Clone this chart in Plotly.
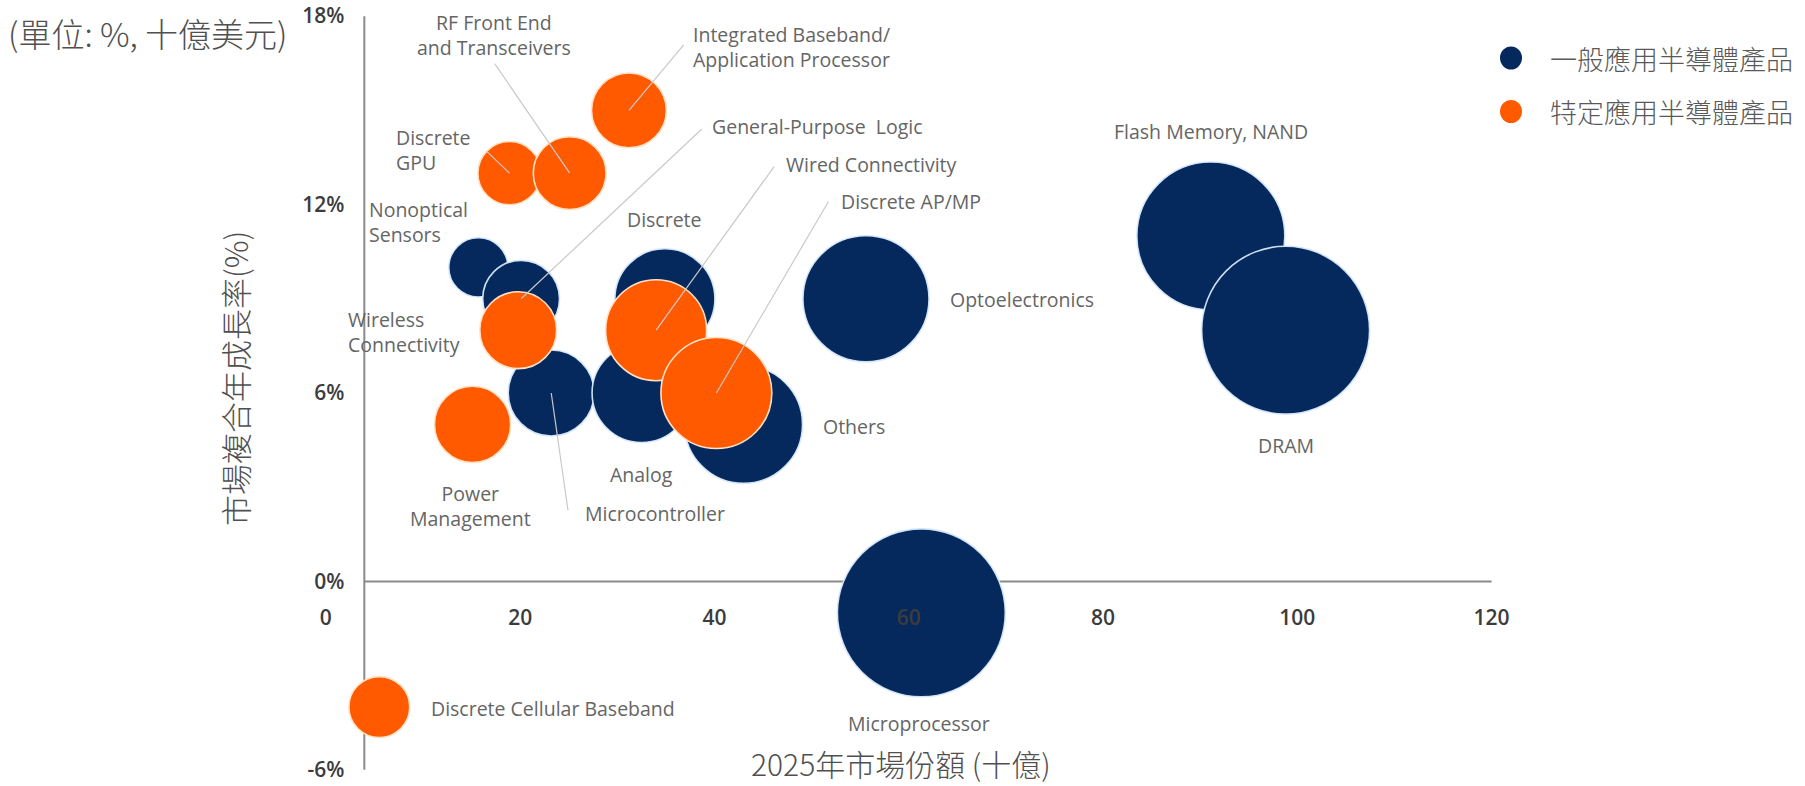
import plotly.graph_objects as go

# 一般應用半導體產品
general_names = ["Nonoptical Sensors", "General-Purpose Logic", "Microcontroller", "Analog",
                 "Discrete", "Others", "Optoelectronics", "Flash Memory, NAND", "DRAM",
                 "Microprocessor"]
general_market_2025 = [15.7, 20.1, 23.2, 32.5, 34.9, 43.0, 55.6, 91.1, 98.8, 61.3]
general_cagr = [10, 9, 6, 6, 9, 5, 9, 11, 8, -1]
general_bubble = [35, 59, 74, 98, 100, 139, 159, 219, 282, 282]

# 特定應用半導體產品
specific_names = ["Discrete GPU", "RF Front End and Transceivers",
                  "Integrated Baseband/Application Processor", "Wireless Connectivity",
                  "Wired Connectivity", "Discrete AP/MP", "Power Management",
                  "Discrete Cellular Baseband"]
specific_market_2025 = [18.9, 25.1, 31.2, 19.8, 34.0, 40.2, 15.1, 5.5]
specific_cagr = [13, 13, 15, 8, 8, 6, 5, -4]
specific_bubble = [40, 53, 56, 59, 102, 123, 58, 37]

series_names = ["一般應用半導體產品", "特定應用半導體產品"]
x_ticks = [0, 20, 40, 60, 80, 100, 120]
y_ticks = [-6, 0, 6, 12, 18]
y_tick_labels = ["-6%", "0%", "6%", "12%", "18%"]

NAVY = "#05295C"
ORANGE = "#FF5A00"
LABEL_GREY = "#656565"
TITLE_GREY = "#505050"
LATIN = "Open Sans, Liberation Sans, sans-serif"
CJK = "Noto Sans CJK TC, Noto Sans CJK SC, sans-serif"

W, H = 1805, 786
M = dict(l=287, r=294, t=13, b=13)
X_RANGE = [-4, 122]
Y_RANGE = [-6.1, 18.1]
Y_AXIS_X = 3.96  # where the vertical axis line crosses the x scale


def paper_x(px):
    return (px - M["l"]) / (W - M["l"] - M["r"])


def paper_y(py):
    return (H - M["b"] - py) / (H - M["t"] - M["b"])


# label text, pixel offset from bubble centre, anchor, optional leader-line tail offset
label_style = {
    "Nonoptical Sensors": ("Nonoptical<br>Sensors", -111, -45, "left", None),
    "General-Purpose Logic": ("General-Purpose  Logic", 189, -172, "left", (182, -171)),
    "Microcontroller": ("Microcontroller", 32, 120, "left", (17, 119)),
    "Analog": ("Analog", 0, 81, "center", None),
    "Discrete": ("Discrete", 0, -79, "center", None),
    "Others": ("Others", 77, 2, "left", None),
    "Optoelectronics": ("Optoelectronics", 82, 1, "left", None),
    "Flash Memory, NAND": ("Flash Memory, NAND", 0, -104, "center", None),
    "DRAM": ("DRAM", 0, 115, "center", None),
    "Microprocessor": ("Microprocessor", -2, 111, "center", None),
    "Discrete GPU": ("Discrete<br>GPU", -115, -23, "left", (-24, -23)),
    "RF Front End and Transceivers": ("RF Front End<br>and Transceivers", -76, -138, "center", (-76, -111)),
    "Integrated Baseband/Application Processor": ("Integrated Baseband/<br>Application Processor", 62, -63, "left", (56, -67)),
    "Wireless Connectivity": ("Wireless<br>Connectivity", -172, 2, "left", None),
    "Wired Connectivity": ("Wired Connectivity", 128, -166, "left", (119, -165)),
    "Discrete AP/MP": ("Discrete AP/MP", 123, -192, "left", (113, -193)),
    "Power Management": ("Power<br>Management", -2, 82, "center", None),
    "Discrete Cellular Baseband": ("Discrete Cellular Baseband", 50, 1, "left", None),
}

fig = go.Figure()

groups = [
    (series_names[0], general_names, general_market_2025, general_cagr, general_bubble,
     NAVY, "rgba(215,232,250,0.95)"),
    (series_names[1], specific_names, specific_market_2025, specific_cagr, specific_bubble,
     ORANGE, "#FFE2C6"),
]

for name, names, xs, ys, sizes, color, edge in groups:
    fig.add_trace(go.Scatter(
        x=xs, y=ys, name=name, mode="markers", text=names,
        marker=dict(size=sizes, sizemode="area", sizeref=0.02, color=color,
                    opacity=1, line=dict(color=edge, width=1.6)),
        cliponaxis=False, showlegend=False,
        hovertemplate="%{text}<br>%{x}<br>%{y}%<extra></extra>",
    ))

annotations = []
for names, xs, ys in [(general_names, general_market_2025, general_cagr),
                      (specific_names, specific_market_2025, specific_cagr)]:
    for n, x, y in zip(names, xs, ys):
        text, dx, dy, anchor, leader = label_style[n]
        if leader is not None:
            annotations.append(dict(
                x=x, y=y, xref="x", yref="y", text="", showarrow=True,
                ax=leader[0], ay=leader[1], arrowhead=0, arrowwidth=1.2,
                arrowcolor="#C9C9C9", standoff=0,
            ))
        annotations.append(dict(
            x=x, y=y, xref="x", yref="y", text=text, showarrow=False,
            xshift=dx, yshift=-dy, xanchor=anchor, yanchor="middle",
            align=anchor,
            font=dict(family=LATIN, size=19.5, color=LABEL_GREY),
        ))

# unit note and axis titles
annotations.append(dict(
    x=paper_x(6), y=paper_y(33), xref="paper", yref="paper", text="(單位: %, 十億美元)",
    showarrow=False, xanchor="left", yanchor="middle",
    font=dict(family=CJK, size=33, color=TITLE_GREY, weight=300),
))
annotations.append(dict(
    x=paper_x(901), y=paper_y(763), xref="paper", yref="paper", text="2025年市場份額 (十億)",
    showarrow=False, xanchor="center", yanchor="middle",
    font=dict(family=CJK, size=30, color=TITLE_GREY, weight=300),
))
annotations.append(dict(
    x=paper_x(234), y=paper_y(379), xref="paper", yref="paper", text="市場複合年成長率(%)",
    showarrow=False, xanchor="center", yanchor="middle", textangle=-90,
    font=dict(family=CJK, size=31, color=TITLE_GREY, weight=300),
))

# legend: dot + text per series
shapes = []
for i, (name, color) in enumerate(zip(series_names, [NAVY, ORANGE])):
    cy = 58 + i * 53.5
    shapes.append(dict(
        type="circle", xref="paper", yref="paper", xsizemode="pixel", ysizemode="pixel",
        xanchor=paper_x(1511), yanchor=paper_y(cy), x0=-11, x1=11, y0=-11.5, y1=11.5,
        fillcolor=color, line=dict(width=0),
    ))
    annotations.append(dict(
        x=paper_x(1548), y=paper_y(cy), xref="paper", yref="paper", text=name,
        showarrow=False, xanchor="left", yanchor="middle",
        font=dict(family=CJK, size=27, color="#595959", weight=300),
    ))

# axis lines crossing at the origin region
shapes.append(dict(type="line", xref="x", yref="y", x0=Y_AXIS_X, x1=Y_AXIS_X,
                   y0=min(y_ticks), y1=max(y_ticks), layer="below",
                   line=dict(color="#8A8A8A", width=2)))
shapes.append(dict(type="line", xref="x", yref="y", x0=Y_AXIS_X, x1=max(x_ticks),
                   y0=0, y1=0, layer="below", line=dict(color="#8A8A8A", width=2)))

tick_font = dict(family=LATIN, size=21, color="#3C3C3C", weight=600)

fig.update_layout(
    width=W, height=H, margin=dict(M, autoexpand=False),
    paper_bgcolor="white", plot_bgcolor="white",
    xaxis=dict(range=X_RANGE, tickvals=x_ticks, showgrid=False, zeroline=False,
               showline=False, ticks="", anchor="free", automargin=False,
               position=(0 - Y_RANGE[0]) / (Y_RANGE[1] - Y_RANGE[0]),
               ticklabelstandoff=22, tickfont=tick_font),
    yaxis=dict(range=Y_RANGE, tickvals=y_ticks, ticktext=y_tick_labels, showgrid=False,
               zeroline=False, showline=False, ticks="", anchor="free", automargin=False,
               position=(Y_AXIS_X - X_RANGE[0]) / (X_RANGE[1] - X_RANGE[0]),
               ticklabelstandoff=20, tickfont=tick_font),
    annotations=annotations, shapes=shapes, showlegend=False,
)

fig.write_html("out.html")
